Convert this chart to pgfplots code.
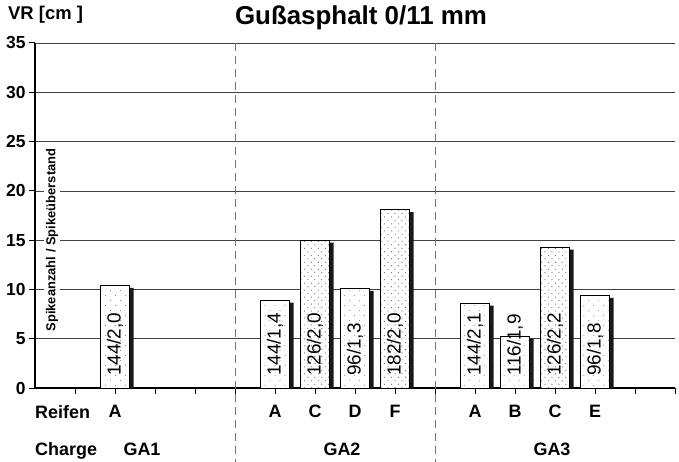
\documentclass[border=0pt]{standalone}
\usepackage{fontspec}
\setmainfont{Liberation Sans}
\usepackage{pgfplots}
\pgfplotsset{compat=1.18}
\usetikzlibrary{patterns}
\pgfdeclarepatternformonly{sparsedots}{\pgfqpoint{-1pt}{-1pt}}{\pgfqpoint{10pt}{10pt}}{\pgfqpoint{10pt}{10pt}}{%
 \pgfpathcircle{\pgfqpoint{1pt}{2pt}}{0.5pt}%
 \pgfpathcircle{\pgfqpoint{6pt}{7pt}}{0.5pt}%
 \pgfusepath{fill}}
\pgfdeclarepatternformonly{densedots}{\pgfqpoint{-1pt}{-1pt}}{\pgfqpoint{7pt}{7pt}}{\pgfqpoint{7pt}{7pt}}{%
 \pgfpathcircle{\pgfqpoint{1pt}{1pt}}{0.6pt}%
 \pgfpathcircle{\pgfqpoint{4.5pt}{4.5pt}}{0.6pt}%
 \pgfusepath{fill}}
\newcommand{\fs}[1]{\fontsize{#1}{#1}\selectfont}
\begin{document}
\begin{tikzpicture}
\useasboundingbox (-35bp,-74bp) rectangle (644bp,388bp);
\begin{axis}[
  at={(0,0)}, anchor=south west,
  scale only axis, width=640bp, height=345bp,
  xmin=0, xmax=16, ymin=0, ymax=35,
  axis x line*=bottom, axis y line*=left,
  axis line style={line width=1.6bp, black, -},
  ytick={0,5,...,35},
  xtick={1,...,16},
  xticklabels={,A,,,,A,C,D,F,,A,B,C,E,,},
  ymajorgrids,
  grid style={black!75, line width=0.7bp},
  tick align=outside,
  major tick length=6bp,
  tick style={black, line width=1bp},
  /pgf/number format/assume math mode=true,
  yticklabel style={font=\fs{17.5}\bfseries},
  xticklabel style={font=\fs{18}\bfseries, anchor=base, yshift=-23bp},
  clip=false,
]
% shadows
\addplot[ybar, bar width=29bp, bar shift=4bp, fill=black!90, draw=none]
  coordinates {(2,10.15) (6,8.65) (7,14.75) (8,9.85) (9,17.85) (11,8.35) (12,5.0) (13,14.05) (14,9.15)};
% sparse dotted bars
\addplot[ybar, bar width=29bp, bar shift=0bp, fill=white, draw=black, line width=0.6bp,
  postaction={pattern=sparsedots, pattern color=black!55}]
  coordinates {(2,10.4) (6,8.9) (8,10.1) (11,8.6) (12,5.25) (14,9.4)};
% dense dotted bars
\addplot[ybar, bar width=29bp, bar shift=0bp, fill=white, draw=black, line width=0.6bp,
  postaction={pattern=densedots, pattern color=black!60}]
  coordinates {(7,15.0) (9,18.1) (13,14.3)};
% dividers
\draw[black!55, line width=0.7bp, dash pattern=on 8bp off 5bp] (axis cs:5,35) -- (axis cs:5,-7.6);
\draw[black!55, line width=0.7bp, dash pattern=on 8bp off 5bp] (axis cs:10,35) -- (axis cs:10,-7.6);
% bar labels
\foreach \x/\t in {2/144{/}2{,}0, 6/144{/}1{,}4, 7/126{/}2{,}0, 8/96{/}1{,}3, 9/182{/}2{,}0, 11/144{/}2{,}1, 12/116{/}1{,}9, 13/126{/}2{,}2, 14/96{/}1{,}8}{
  \edef\temp{\noexpand\node[rotate=90, anchor=west, inner sep=0pt, font=\noexpand\fs{19}] at (axis cs:\x,1.2) {\t};}
  \temp
}
\end{axis}
\node[anchor=west, inner sep=0pt, font=\fs{18.5}\bfseries] at (-27bp,373bp) {VR [cm ]};
\node[font=\fs{26}\bfseries] at (326bp,370bp) {Gußasphalt 0/11 mm};
\node[rotate=90, fill=white, inner sep=1.5bp, font=\fs{13}\bfseries] at (17bp,148bp) {Spikeanzahl / Spikeüberstand};
\node[anchor=base west, font=\fs{18}\bfseries, inner sep=0pt] at (0bp,-30bp) {Reifen};
\node[anchor=base west, font=\fs{18}\bfseries, inner sep=0pt] at (0bp,-67bp) {Charge};
\node[anchor=base, font=\fs{18}\bfseries, inner sep=0pt] at (107bp,-67bp) {GA1};
\node[anchor=base, font=\fs{18}\bfseries, inner sep=0pt] at (307bp,-67bp) {GA2};
\node[anchor=base, font=\fs{18}\bfseries, inner sep=0pt] at (517bp,-67bp) {GA3};
\end{tikzpicture}
\end{document}
